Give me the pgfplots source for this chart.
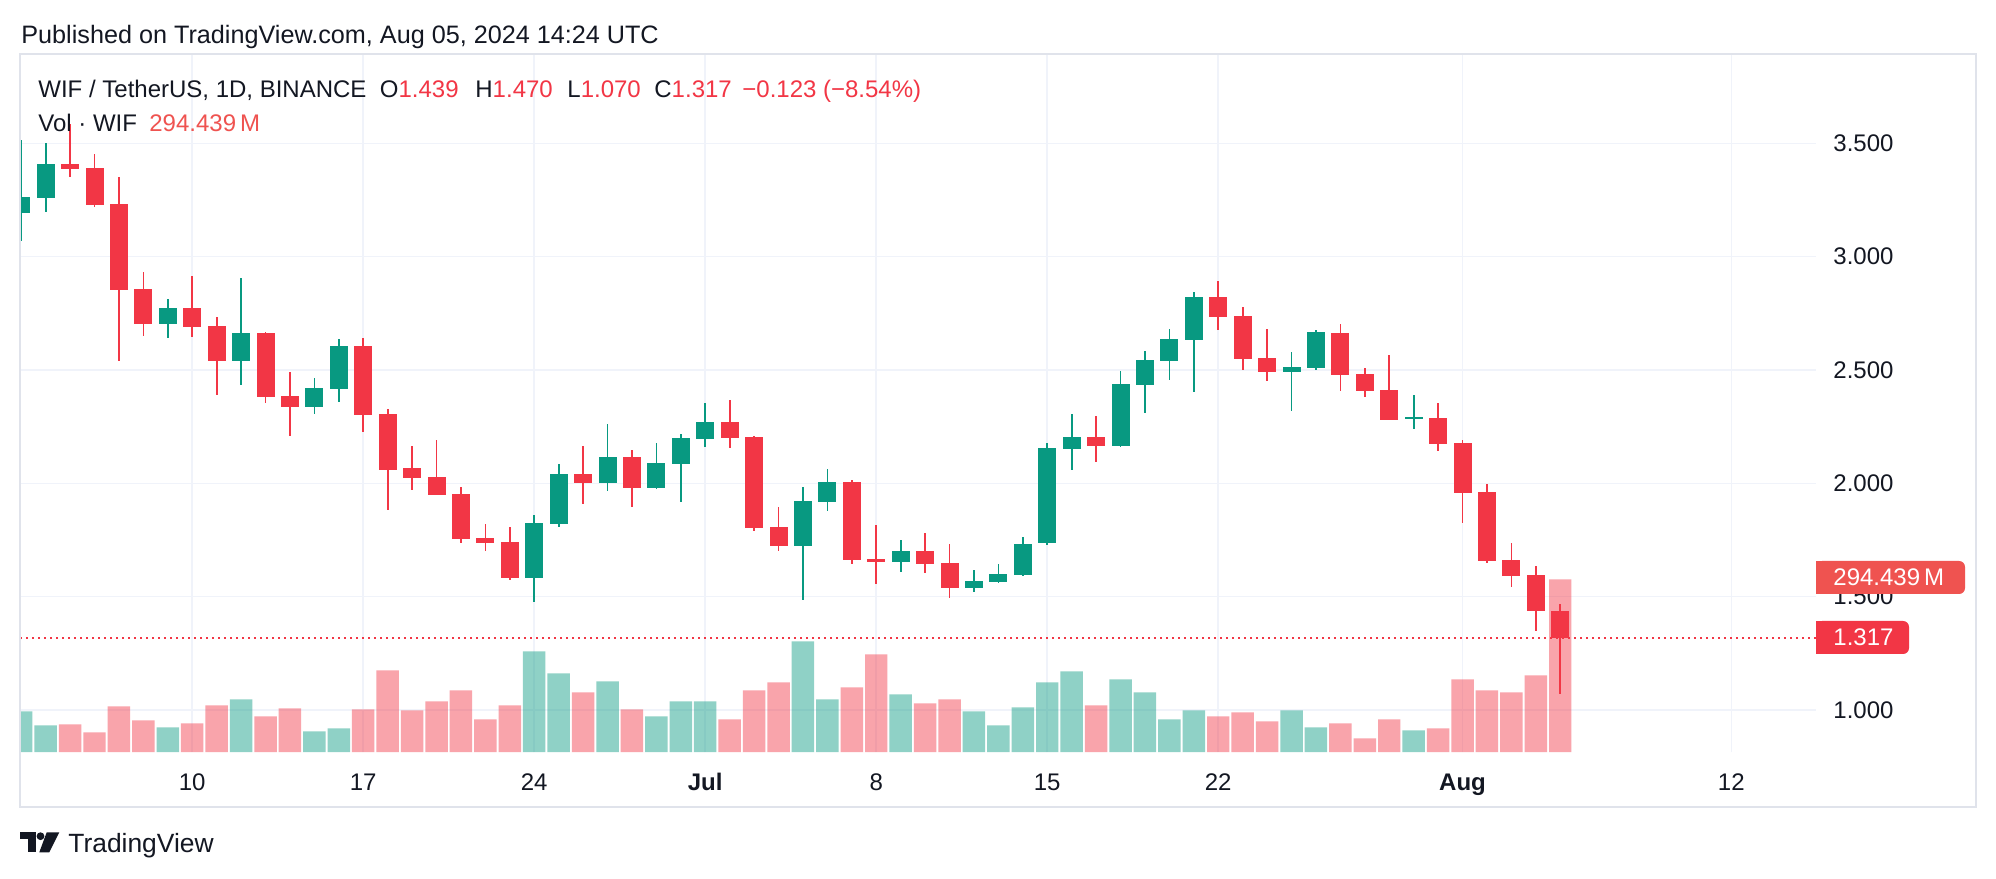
\documentclass[border=0pt]{standalone}
\usepackage{fontspec}
\setmainfont{Liberation Sans}
\usepackage{pgfplots}
\pgfplotsset{compat=1.18}
\usepackage{pgfplotstable}

\definecolor{upc}{HTML}{089981}
\definecolor{dnc}{HTML}{F23645}
\definecolor{volc}{HTML}{EF5350}
\definecolor{txt}{HTML}{131722}
\definecolor{gridc}{HTML}{F0F3FA}
\definecolor{framec}{HTML}{E0E3EB}

% day index: 0 = 1 Jul 2024; v = volume in millions
\pgfplotstableread{
d   o     h     l     c     v
-28 3.194 3.515 3.071 3.262 69.3
-27 3.260 3.500 3.199 3.409 45.5
-22 2.704 2.813 2.643 2.772 42.0
-19 2.541 2.904 2.434 2.663 89.8
-16 2.338 2.463 2.307 2.421 35.2
-15 2.418 2.637 2.360 2.606 40.3
-7  1.584 1.860 1.478 1.825 171.6
-6  1.822 2.085 1.809 2.041 134.1
-4  2.003 2.263 1.968 2.116 120.5
-2  1.981 2.180 1.975 2.090 60.8
-1  2.087 2.218 1.919 2.200 86.4
0   2.197 2.354 2.162 2.271 86.4
4   1.725 1.984 1.487 1.922 188.6
5   1.919 2.063 1.879 2.006 89.8
8   1.654 1.750 1.610 1.701 98.3
11  1.540 1.618 1.522 1.569 69.3
12  1.566 1.644 1.560 1.601 45.5
13  1.597 1.763 1.590 1.732 76.1
14  1.735 2.178 1.730 2.156 118.8
15  2.153 2.306 2.060 2.204 137.5
17  2.166 2.496 2.160 2.438 123.9
18  2.434 2.584 2.312 2.544 101.7
19  2.540 2.681 2.456 2.637 55.7
20  2.632 2.844 2.403 2.822 71.0
24  2.491 2.579 2.321 2.513 71.0
25  2.509 2.676 2.500 2.668 42.0
29  2.287 2.390 2.241 2.294 36.9
}\upcandles

\pgfplotstableread{
d   o     h     l     c     v
-26 3.409 3.585 3.353 3.388 47.2
-25 3.390 3.453 3.221 3.229 33.5
-24 3.231 3.350 2.541 2.854 77.8
-23 2.856 2.932 2.651 2.704 54.0
-21 2.772 2.915 2.647 2.691 48.9
-20 2.694 2.734 2.391 2.541 79.5
-18 2.663 2.668 2.354 2.382 60.8
-17 2.385 2.490 2.210 2.338 74.4
-14 2.606 2.641 2.228 2.303 72.7
-13 2.306 2.326 1.884 2.060 139.2
-12 2.068 2.165 1.971 2.025 71.0
-11 2.028 2.191 1.950 1.950 86.4
-10 1.953 1.984 1.737 1.754 105.1
-9  1.757 1.821 1.703 1.738 55.7
-8  1.740 1.807 1.575 1.584 79.5
-5  2.041 2.165 1.910 2.003 101.7
-3  2.116 2.147 1.897 1.981 72.7
1   2.271 2.368 2.157 2.201 55.7
2   2.204 2.210 1.791 1.804 105.1
3   1.807 1.896 1.703 1.725 118.8
6   2.006 2.015 1.646 1.663 110.2
7   1.666 1.816 1.557 1.654 166.5
9   1.701 1.781 1.606 1.646 83.0
10  1.648 1.734 1.496 1.540 89.8
16  2.204 2.297 2.096 2.166 79.5
21  2.822 2.893 2.676 2.734 60.8
22  2.738 2.778 2.500 2.549 67.6
23  2.553 2.681 2.451 2.491 52.3
26  2.663 2.703 2.407 2.478 48.9
27  2.482 2.509 2.381 2.407 23.3
28  2.412 2.566 2.279 2.279 55.7
30  2.288 2.354 2.144 2.175 40.3
31  2.178 2.190 1.824 1.959 123.9
32  1.962 1.997 1.647 1.659 105.1
33  1.662 1.735 1.541 1.593 101.7
34  1.596 1.635 1.350 1.438 130.7
35  1.439 1.470 1.070 1.317 294.439
}\downcandles

\pgfplotsset{
  candle/.style={only marks, mark=*, mark size=0pt, mark options={draw opacity=0, fill opacity=0},
    error bars/y dir=both, error bars/y explicit, error bars/error mark=none,
    error bars/error bar style={#1}},
}

\begin{document}
\begin{tikzpicture}
\useasboundingbox (0,0) rectangle (998pt,439pt);
\fill[white] (0,0) rectangle (998pt,439pt);

\begin{axis}[
  at={(10pt,63pt)}, anchor=south west,
  scale only axis, width=898pt, height=349pt,
  xmin=-28.05, xmax=45.47, ymin=0.815, ymax=3.894,
  enlargelimits=false,
  axis line style={draw=none},
  major tick length=0pt,
  xtick={-21,-14,-7,0,7,14,21,31,42},
  xticklabels={10,17,24,\textbf{Jul},8,15,22,\textbf{Aug},12},
  ytick={1,1.5,2,2.5,3,3.5},
  yticklabel pos=right,
  xmajorgrids, ymajorgrids,
  grid style={gridc, line width=0.75pt},
  ticklabel style={font=\fontsize{12}{14}\selectfont, text=txt},
  xticklabel style={anchor=base},
  xticklabel shift=19pt,
  yticklabel style={anchor=west, inner sep=0pt,
    /pgf/number format/fixed, /pgf/number format/fixed zerofill,
    /pgf/number format/precision=3},
  yticklabel shift=8.5pt,
  /pgf/number format/assume math mode=true,
]
% volume (scaled into the lower part of the price pane)
\addplot[ybar, bar width=0.92, bar shift=0pt, draw=none, fill=upc, fill opacity=0.45]
  table[x=d, y expr=0.815+0.0025876*\thisrow{v}] {\upcandles};
\addplot[ybar, bar width=0.92, bar shift=0pt, draw=none, fill=dnc, fill opacity=0.45]
  table[x=d, y expr=0.815+0.0025876*\thisrow{v}] {\downcandles};

% last price line
\addplot[dnc, line width=1pt, dash pattern=on 1pt off 2pt] coordinates {(-28.05,1.317) (45.47,1.317)};

% wicks
\addplot[candle={upc, line width=0.85pt}]
  table[x=d, y expr=(\thisrow{h}+\thisrow{l})/2, y error expr=(\thisrow{h}-\thisrow{l})/2] {\upcandles};
\addplot[candle={dnc, line width=0.85pt}]
  table[x=d, y expr=(\thisrow{h}+\thisrow{l})/2, y error expr=(\thisrow{h}-\thisrow{l})/2] {\downcandles};
% bodies
\addplot[candle={upc, line width=9pt}]
  table[x=d, y expr=(\thisrow{o}+\thisrow{c})/2, y error expr={max(abs(\thisrow{c}-\thisrow{o})/2,0.003)}] {\upcandles};
\addplot[candle={dnc, line width=9pt}]
  table[x=d, y expr=(\thisrow{o}+\thisrow{c})/2, y error expr={max(abs(\thisrow{c}-\thisrow{o})/2,0.003)}] {\downcandles};
\end{axis}

\begin{scope}[x=0.5pt, y=0.5pt]
  \draw[framec, line width=1pt] (20,71) rectangle (1976,824);
  \node[anchor=base west, inner sep=0, font=\fontsize{12.6}{15}\selectfont, text=txt]
    at (21,834.7) {Published on TradingView.com, Aug 05, 2024 14:24 UTC};

  \begin{scope}[every node/.style={anchor=base west, inner sep=0, font=\fontsize{12}{14}\selectfont, text=txt}]
    \node at (38,780.5) {WIF / TetherUS, 1D, BINANCE};
    \node at (379.5,780.5) {O\textcolor{dnc}{1.439}};
    \node at (475,780.5) {H\textcolor{dnc}{1.470}};
    \node at (567,780.5) {L\textcolor{dnc}{1.070}};
    \node at (654,780.5) {C\textcolor{dnc}{1.317}};
    \node at (742,780.5) {\textcolor{dnc}{−0.123 (−8.54\%)}};
    \node at (38,746.3) {Vol · WIF};
    \node at (149,746.3) {\textcolor{volc}{294.439\,M}};
  \end{scope}

  % price scale labels
  \fill[volc, rounded corners=3] (1816,284) rectangle (1965,317);
  \fill[volc] (1816,284) rectangle (1830,317);
  \node[anchor=west, inner sep=0, font=\fontsize{12}{14}\selectfont, text=white] at (1833,300.5) {294.439\,M};
  \fill[dnc, rounded corners=3] (1816,224) rectangle (1909,257);
  \fill[dnc] (1816,224) rectangle (1830,257);
  \node[anchor=west, inner sep=0, font=\fontsize{12}{14}\selectfont, text=white] at (1833,240.5) {1.317};

  % logo
  \fill[txt] (20,45.7) rectangle (36,38.7);
  \fill[txt] (28.3,45.7) rectangle (36,25.7);
  \fill[txt] (40.5,41.8) circle (3.9);
  \fill[txt] (46.7,45.7) -- (59.3,45.7) -- (49.3,25.7) -- (39.3,25.7) -- cycle;
  \node[anchor=base west, inner sep=0, font=\fontsize{13.2}{16}\selectfont, text=txt]
    at (68,25.7) {TradingView};
\end{scope}
\end{tikzpicture}
\end{document}
